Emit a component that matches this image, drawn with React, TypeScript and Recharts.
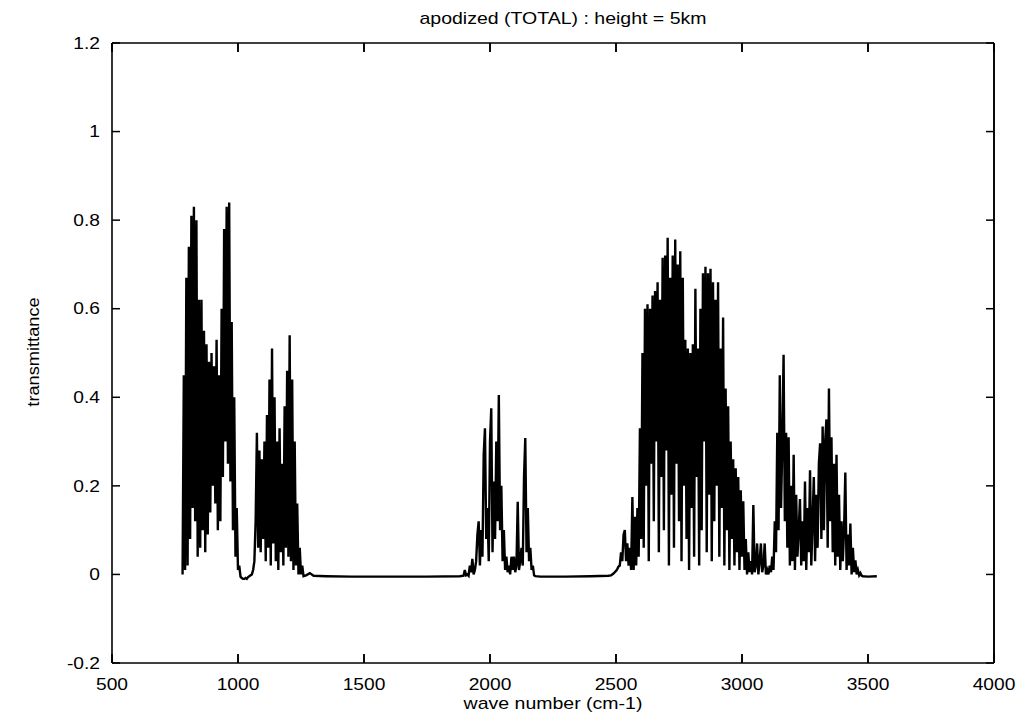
import { LineChart, Line, XAxis, YAxis, ReferenceLine, CartesianGrid } from "recharts"

// wave number ticks (cm-1) and transmittance ticks
const xTicks = [500, 1000, 1500, 2000, 2500, 3000, 3500, 4000]
const yTicks = [-0.2, 0, 0.2, 0.4, 0.6, 0.8, 1, 1.2]

// band 1: 780 .. 1260 cm-1, sampled every 5 cm-1
const band1Start = 780
const band1Values = [
  0.0, 0.45, 0.01, 0.67, 0.02, 0.74, 0.08, 0.81, 0.15, 0.83, // 780
  0.12, 0.8, 0.04, 0.62, 0.06, 0.62, 0.1, 0.55, 0.05, 0.52, // 830
  0.09, 0.48, 0.14, 0.5, 0.2, 0.47, 0.16, 0.53, 0.1, 0.45, // 880
  0.12, 0.6, 0.22, 0.78, 0.3, 0.83, 0.25, 0.84, 0.21, 0.57, // 930
  0.1, 0.4, 0.04, 0.15, 0.01, 0.02, -0.005, -0.008, -0.01, -0.01, // 980
  -0.008, -0.01, -0.006, -0.004, -0.002, 0.0, 0.01, 0.03, 0.12, 0.32, // 1030
  0.06, 0.28, 0.05, 0.26, 0.08, 0.3, 0.03, 0.36, 0.06, 0.44, // 1080
  0.02, 0.51, 0.07, 0.4, 0.03, 0.3, 0.01, 0.33, 0.05, 0.25, // 1130
  0.02, 0.38, 0.06, 0.46, 0.04, 0.54, 0.03, 0.44, 0.01, 0.3, // 1180
  0.02, 0.16, 0.0, 0.06, 0.0, 0.02, -0.004, // 1230
]

// band 2: 1895 .. 2180 cm-1
const band2Start = 1895
const band2Values = [
  -0.003, 0.01, -0.002, 0.0, -0.003, 0.02, 0.005, 0.035, 0.0, 0.01, // 1895
  0.03, 0.09, 0.12, 0.02, 0.1, 0.04, 0.27, 0.33, 0.08, 0.15, // 1945
  0.03, 0.3, 0.375, 0.05, 0.21, 0.08, 0.3, 0.12, 0.405, 0.1, // 1995
  0.2, 0.03, 0.1, 0.01, 0.04, 0.005, 0.02, 0.0, 0.04, 0.01, // 2045
  0.04, 0.005, 0.02, 0.164, 0.01, 0.03, 0.06, 0.02, 0.22, 0.308, // 2095
  0.05, 0.15, 0.03, 0.06, 0.01, 0.02, -0.002, -0.004, // 2145
]

// band 3: 2480 .. 3480 cm-1
const band3Start = 2480
const band3Values = [
  -0.002, 0.0, 0.002, 0.005, 0.008, 0.012, 0.018, 0.02, 0.05, 0.03, // 2480
  0.09, 0.1, 0.03, 0.07, 0.02, 0.06, 0.01, 0.175, 0.01, 0.13, // 2530
  0.02, 0.15, 0.04, 0.33, 0.08, 0.5, 0.06, 0.6, 0.2, 0.61, // 2580
  0.03, 0.6, 0.25, 0.63, 0.12, 0.64, 0.3, 0.66, 0.05, 0.62, // 2630
  0.22, 0.715, 0.1, 0.72, 0.28, 0.76, 0.02, 0.67, 0.18, 0.72, // 2680
  0.06, 0.756, 0.25, 0.7, 0.12, 0.73, 0.03, 0.67, 0.2, 0.53, // 2730
  0.08, 0.51, 0.01, 0.5, 0.15, 0.52, 0.04, 0.645, 0.22, 0.51, // 2780
  0.02, 0.6, 0.1, 0.68, 0.3, 0.695, 0.05, 0.68, 0.18, 0.69, // 2830
  0.03, 0.66, 0.12, 0.62, 0.2, 0.66, 0.04, 0.51, 0.15, 0.58, // 2880
  0.02, 0.42, 0.1, 0.38, 0.01, 0.3, 0.08, 0.26, 0.02, 0.24, // 2930
  0.05, 0.22, 0.01, 0.19, 0.04, 0.165, 0.01, 0.08, 0.0, 0.05, // 2980
  0.005, 0.03, 0.0, 0.157, 0.005, 0.02, 0.07, 0.0, 0.03, 0.07, // 3030
  0.005, 0.02, 0.07, 0.0, 0.01, 0.0, 0.02, 0.005, 0.04, 0.01, // 3080
  0.12, 0.05, 0.32, 0.1, 0.45, 0.15, 0.3, 0.496, 0.12, 0.32, // 3130
  0.06, 0.31, 0.02, 0.2, 0.03, 0.27, 0.01, 0.18, 0.04, 0.1, // 3180
  0.17, 0.02, 0.12, 0.03, 0.21, 0.01, 0.15, 0.05, 0.235, 0.02, // 3230
  0.12, 0.22, 0.03, 0.18, 0.06, 0.25, 0.296, 0.08, 0.334, 0.1, // 3280
  0.3, 0.35, 0.06, 0.42, 0.12, 0.31, 0.05, 0.25, 0.02, 0.27, // 3330
  0.04, 0.18, 0.01, 0.12, 0.03, 0.1, 0.23, 0.01, 0.09, 0.02, // 3380
  0.115, 0.0, 0.06, 0.005, 0.032, 0.0, 0.01, -0.002, 0.003, -0.003, // 3430
  -0.004, // 3480
]

const sampleStep = 5

// flat stretches between the bands: [wave number, transmittance]
const gap1 = [[1270, -0.002], [1285, 0.003], [1300, -0.003], [1350, -0.004], [1450, -0.005], [1600, -0.005], [1750, -0.005], [1880, -0.004]]
const gap2 = [[2200, -0.005], [2300, -0.005], [2400, -0.004], [2470, -0.003]]
const tail = [[3500, -0.005], [3535, -0.004]]

const band = (start: number, values: number[]) =>
  values.map((t, i) => ({ wn: start + i * sampleStep, t }))
const flat = (pts: number[][]) => pts.map(([wn, t]) => ({ wn, t }))

const spectrum = [
  ...band(band1Start, band1Values),
  ...flat(gap1),
  ...band(band2Start, band2Values),
  ...flat(gap2),
  ...band(band3Start, band3Values),
  ...flat(tail),
]

const Y_MIN = -0.2
const Y_MAX = 1.2
const X_TICK_LEN = 0.02 // inward tick length along y, in transmittance units

const FONT = "'Liberation Sans', Arial, Helvetica, sans-serif"
// negative tick size turns the tick marks inwards, the margin brings labels back out
const TICK = -8
const tickStroke = { stroke: "#000", strokeWidth: 1.5 }
const frame = { stroke: "#000", strokeWidth: 1.6 }

function BottomLabel({ x, y, payload }: any) {
  return (
    <text transform={`translate(${x},${y + 27}) scale(1.2,1)`} textAnchor="middle" fontSize={16} fontFamily={FONT} fill="#000">
      {payload.value}
    </text>
  )
}

function LeftLabel({ x, y, payload }: any) {
  return (
    <text transform={`translate(${x - 12},${y}) scale(1.2,1)`} dy="0.36em" textAnchor="end" fontSize={16} fontFamily={FONT} fill="#000">
      {String(payload.value)}
    </text>
  )
}

const NoLabel = () => <g />

export default function App() {
  return (
    <div style={{ position: "absolute", left: 0, top: 0, width: 1019, height: 717, background: "#fff" }}>
      <LineChart width={1019} height={717} data={spectrum} margin={{ top: 43, right: 24, bottom: 0, left: 0 }}>
        {/* vertical grid dashed so only the two ends show: inward x ticks top and bottom */}
        <CartesianGrid horizontal={false} stroke="#000" strokeWidth={1.6} strokeDasharray="9 602 9" />
        <XAxis
          dataKey="wn"
          type="number"
          domain={[500, 4000]}
          ticks={xTicks}
          interval={0}
          height={54}
          tickSize={0}
          tickMargin={0}
          tickLine={false}
          axisLine={frame}
          tick={(p: any) => <BottomLabel {...p} />}
        />
        <YAxis
          type="number"
          domain={[Y_MIN, Y_MAX]}
          ticks={yTicks}
          interval={0}
          width={112}
          tickSize={TICK}
          tickMargin={8}
          tickLine={tickStroke}
          axisLine={frame}
          tick={(p: any) => <LeftLabel {...p} />}
        />
        <YAxis
          yAxisId="right"
          orientation="right"
          type="number"
          domain={[Y_MIN, Y_MAX]}
          ticks={yTicks}
          interval={0}
          width={1}
          tickSize={TICK}
          tickMargin={8}
          tickLine={tickStroke}
          axisLine={frame}
          tick={NoLabel}
        />
        {/* frame edges on the far sides */}
        <ReferenceLine y={Y_MAX} stroke="#000" strokeWidth={1.6} />
        <ReferenceLine x={4000} stroke="#000" strokeWidth={1.6} />
        {xTicks.map((v) => (
          <ReferenceLine
            key={`b${v}`}
            segment={[{ x: v, y: Y_MIN }, { x: v, y: Y_MIN + X_TICK_LEN }]}
            ifOverflow="visible"
            stroke="#000"
            strokeWidth={1.6}
          />
        ))}
        {xTicks.map((v) => (
          <ReferenceLine
            key={`t${v}`}
            segment={[{ x: v, y: Y_MAX }, { x: v, y: Y_MAX - X_TICK_LEN }]}
            ifOverflow="visible"
            stroke="#000"
            strokeWidth={1.6}
          />
        ))}
        {/* invisible twin so the mirrored right axis gets drawn */}
        <Line
          yAxisId="right"
          dataKey="t"
          stroke="none"
          strokeOpacity={0}
          dot={false}
          activeDot={false}
          legendType="none"
          isAnimationActive={false}
        />
        <Line
          dataKey="t"
          type="linear"
          stroke="#000"
          strokeWidth={2.4}
          dot={false}
          activeDot={false}
          isAnimationActive={false}
        />
      </LineChart>
      <svg width={1019} height={717} style={{ position: "absolute", left: 0, top: 0, pointerEvents: "none" }}>
        <text transform="translate(563,24) scale(1.22,1)" textAnchor="middle" fontSize={16} fontFamily={FONT} fill="#000">
          apodized (TOTAL) : height = 5km
        </text>
        <text transform="translate(553,709) scale(1.22,1)" textAnchor="middle" fontSize={16} fontFamily={FONT} fill="#000">
          wave number (cm-1)
        </text>
        <text transform="translate(39,352) rotate(-90) scale(1.14,1)" textAnchor="middle" fontSize={16} fontFamily={FONT} fill="#000">
          transmittance
        </text>
      </svg>
    </div>
  )
}
